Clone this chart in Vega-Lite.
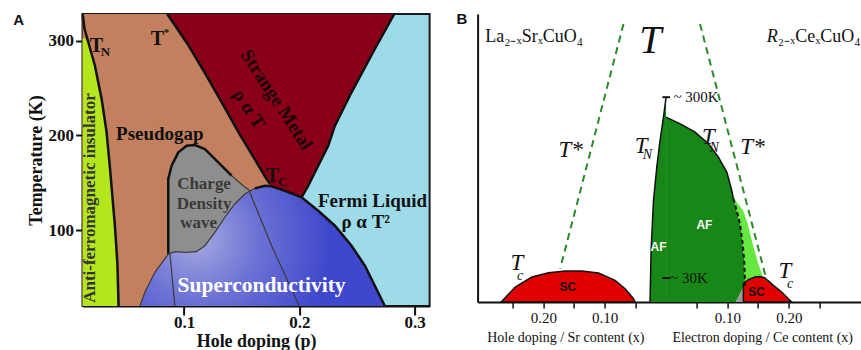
{
  "$schema": "https://vega.github.io/schema/vega-lite/v6.json",
  "background": "white",
  "padding": {"left": 11.6, "top": 8, "right": 0, "bottom": 0},
  "autosize": {"type": "pad"},
  "spacing": 48,
  "bounds": "flush",
  "resolve": {"scale": {"x": "independent", "y": "independent"}},
  "config": {"axis": {"grid": false}},
  "hconcat": [
    {
      "width": 347,
      "height": 292,
      "view": {"fill": "#9edbe9", "stroke": "#1a1a1a", "strokeWidth": 2},
      "layer": [
        {
          "data": {"values": [
            {"T": 328, "p": 0.012, "p2": 0.0854}, {"T": 296.4, "p": 0.012, "p2": 0.1030},
            {"T": 264.7, "p": 0.012, "p2": 0.1186}, {"T": 233.1, "p": 0.012, "p2": 0.1334},
            {"T": 201.4, "p": 0.012, "p2": 0.1481}, {"T": 175.1, "p": 0.012, "p2": 0.1611},
            {"T": 154.0, "p": 0.012, "p2": 0.1715}, {"T": 138.1, "p": 0.012, "p2": 0.1776},
            {"T": 111.8, "p": 0.012, "p2": 0.1889}, {"T": 85.4, "p": 0.012, "p2": 0.2019},
            {"T": 20, "p": 0.012, "p2": 0.2279}
          ]},
          "mark": {"type": "area", "orient": "horizontal", "color": "#c2805e"},
          "encoding": {
            "y": {"field": "T", "type": "quantitative", "scale": {"domain": [20, 328], "nice": false, "zero": false},
              "axis": {"title": "Temperature (K)", "values": [100, 200, 300], "grid": false,
                "labelFont": "Liberation Serif", "labelFontWeight": "bold", "labelFontSize": 17, "labelColor": "#111",
                "tickSize": 7, "tickWidth": 2, "tickColor": "#111", "labelPadding": 2,
                "domainColor": "#111", "domainWidth": 2.5,
                "titleFont": "Liberation Serif", "titleFontWeight": "bold", "titleFontSize": 18, "titleColor": "#111", "titlePadding": 3}},
            "x": {"field": "p", "type": "quantitative", "scale": {"domain": [0.012, 0.3129], "nice": false, "zero": false},
              "axis": {"title": "Hole doping (p)", "values": [0.1, 0.2, 0.3], "format": ".1f", "grid": false,
                "labelFont": "Liberation Serif", "labelFontWeight": "bold", "labelFontSize": 17, "labelColor": "#111",
                "tickSize": 9, "tickWidth": 2, "tickColor": "#111", "labelPadding": 0, "labelFlush": false,
                "domainColor": "#111", "domainWidth": 2,
                "titleFont": "Liberation Serif", "titleFontWeight": "bold", "titleFontSize": 18, "titleColor": "#111", "titlePadding": 2}},
            "x2": {"field": "p2"}
          }
        },
        {
          "data": {"values": [
            {"T": 328, "p": 0.0854, "p2": 0.2823}, {"T": 296.4, "p": 0.1030, "p2": 0.2678},
            {"T": 264.7, "p": 0.1186, "p2": 0.2537}, {"T": 233.1, "p": 0.1334, "p2": 0.2402},
            {"T": 201.4, "p": 0.1481, "p2": 0.2283}, {"T": 175.1, "p": 0.1611, "p2": 0.2193},
            {"T": 154.0, "p": 0.1715, "p2": 0.2106}, {"T": 138.1, "p": 0.1776, "p2": 0.2035},
            {"T": 132.9, "p": 0.1799, "p2": 0.2010}
          ]},
          "mark": {"type": "area", "orient": "horizontal", "color": "#8a0019"},
          "encoding": {
            "y": {"field": "T", "type": "quantitative", "scale": {"domain": [20, 328], "nice": false, "zero": false}},
            "x": {"field": "p", "type": "quantitative", "scale": {"domain": [0.012, 0.3129], "nice": false, "zero": false}},
            "x2": {"field": "p2"}
          }
        },
        {
          "data": {"values": [
            {"T": 302.4, "p": 0.012, "p2": 0.0138}, {"T": 298.5, "p": 0.012, "p2": 0.0169},
            {"T": 273.5, "p": 0.012, "p2": 0.0227}, {"T": 238.3, "p": 0.012, "p2": 0.0285},
            {"T": 203.5, "p": 0.012, "p2": 0.0328}, {"T": 164.5, "p": 0.012, "p2": 0.0358},
            {"T": 104.7, "p": 0.012, "p2": 0.0400}, {"T": 64.3, "p": 0.012, "p2": 0.0422},
            {"T": 20, "p": 0.012, "p2": 0.0432}
          ]},
          "mark": {"type": "area", "orient": "horizontal", "color": "#b5e61d"},
          "encoding": {
            "y": {"field": "T", "type": "quantitative", "scale": {"domain": [20, 328], "nice": false, "zero": false}},
            "x": {"field": "p", "type": "quantitative", "scale": {"domain": [0.012, 0.3129], "nice": false, "zero": false}},
            "x2": {"field": "p2"}
          }
        },
        {
          "data": {"values": [
            {"p": 0.0863, "T": 154.0}, {"p": 0.0892, "T": 168.0}, {"p": 0.0950, "T": 182.1},
            {"p": 0.1022, "T": 189.1}, {"p": 0.1094, "T": 189.8}, {"p": 0.1180, "T": 185.6},
            {"p": 0.1297, "T": 171.6}, {"p": 0.1412, "T": 157.4}, {"p": 0.1513, "T": 146.9},
            {"p": 0.1571, "T": 141.6}
          ]},
          "mark": {"type": "area", "color": "#8e8e8e"},
          "encoding": {
            "x": {"field": "p", "type": "quantitative", "scale": {"domain": [0.012, 0.3129], "nice": false, "zero": false}},
            "y": {"field": "T", "type": "quantitative", "scale": {"domain": [20, 328], "nice": false, "zero": false}},
            "y2": {"datum": 20}
          }
        },
        {
          "data": {"values": [
            {"p": 0.0617, "T": 20}, {"p": 0.0660, "T": 34.4}, {"p": 0.0747, "T": 55.5},
            {"p": 0.0863, "T": 74.8}, {"p": 0.0920, "T": 77.3}, {"p": 0.1007, "T": 76.6},
            {"p": 0.1108, "T": 77.3}, {"p": 0.1180, "T": 83.6}, {"p": 0.1267, "T": 97.7},
            {"p": 0.1354, "T": 113.6}, {"p": 0.1440, "T": 127.6}, {"p": 0.1527, "T": 138.1},
            {"p": 0.1614, "T": 144.1}, {"p": 0.1701, "T": 146.9}, {"p": 0.1759, "T": 146.3},
            {"p": 0.1874, "T": 141.6}, {"p": 0.2019, "T": 134.7}, {"p": 0.2163, "T": 120.5},
            {"p": 0.2308, "T": 104.7}, {"p": 0.2452, "T": 83.6}, {"p": 0.2568, "T": 62.5},
            {"p": 0.2654, "T": 41.4}, {"p": 0.2741, "T": 20}
          ]},
          "mark": {"type": "area", "color": {"gradient": "radial", "x1": 0.23, "y1": 0.47, "r1": 0, "x2": 0.23, "y2": 0.47, "r2": 0.55,
            "stops": [{"offset": 0, "color": "#a7aae0"}, {"offset": 0.45, "color": "#6d73d4"}, {"offset": 1, "color": "#3f48cc"}]}},
          "encoding": {
            "x": {"field": "p", "type": "quantitative", "scale": {"domain": [0.012, 0.3129], "nice": false, "zero": false}},
            "y": {"field": "T", "type": "quantitative", "scale": {"domain": [20, 328], "nice": false, "zero": false}},
            "y2": {"datum": 20}
          }
        },
        {
          "data": {"values": [
            {"seg": "TN", "k": 0, "p": 0.0120, "T": 328}, {"seg": "TN", "k": 1, "p": 0.0137, "T": 312.2},
            {"seg": "TN", "k": 2, "p": 0.0169, "T": 298.5}, {"seg": "TN", "k": 3, "p": 0.0227, "T": 273.5},
            {"seg": "TN", "k": 4, "p": 0.0285, "T": 238.3}, {"seg": "TN", "k": 5, "p": 0.0328, "T": 203.5},
            {"seg": "TN", "k": 6, "p": 0.0358, "T": 164.5}, {"seg": "TN", "k": 7, "p": 0.0400, "T": 104.7},
            {"seg": "TN", "k": 8, "p": 0.0422, "T": 64.3}, {"seg": "TN", "k": 9, "p": 0.0432, "T": 20},
            {"seg": "Ts", "k": 0, "p": 0.0854, "T": 328}, {"seg": "Ts", "k": 1, "p": 0.1030, "T": 296.4},
            {"seg": "Ts", "k": 2, "p": 0.1186, "T": 264.7}, {"seg": "Ts", "k": 3, "p": 0.1334, "T": 233.1},
            {"seg": "Ts", "k": 4, "p": 0.1481, "T": 201.4}, {"seg": "Ts", "k": 5, "p": 0.1611, "T": 175.1},
            {"seg": "Ts", "k": 6, "p": 0.1715, "T": 154.0}, {"seg": "Ts", "k": 7, "p": 0.1745, "T": 149.0},
            {"seg": "FL", "k": 0, "p": 0.2823, "T": 328}, {"seg": "FL", "k": 1, "p": 0.2654, "T": 291.1},
            {"seg": "FL", "k": 2, "p": 0.2452, "T": 245.4}, {"seg": "FL", "k": 3, "p": 0.2308, "T": 210.2},
            {"seg": "FL", "k": 4, "p": 0.2250, "T": 189.1}, {"seg": "FL", "k": 5, "p": 0.2163, "T": 168.0},
            {"seg": "FL", "k": 6, "p": 0.2077, "T": 146.9}, {"seg": "FL", "k": 7, "p": 0.2019, "T": 134.7},
            {"seg": "CD", "k": 0, "p": 0.0863, "T": 74.8}, {"seg": "CD", "k": 1, "p": 0.0863, "T": 117.0},
            {"seg": "CD", "k": 2, "p": 0.0863, "T": 154.0}, {"seg": "CD", "k": 3, "p": 0.0892, "T": 168.0},
            {"seg": "CD", "k": 4, "p": 0.0950, "T": 182.1}, {"seg": "CD", "k": 5, "p": 0.1022, "T": 189.1},
            {"seg": "CD", "k": 6, "p": 0.1094, "T": 189.8}, {"seg": "CD", "k": 7, "p": 0.1180, "T": 185.6},
            {"seg": "CD", "k": 8, "p": 0.1297, "T": 171.6}, {"seg": "CD", "k": 9, "p": 0.1412, "T": 157.4},
            {"seg": "DR", "k": 0, "p": 0.1614, "T": 144.1}, {"seg": "DR", "k": 1, "p": 0.1701, "T": 146.9},
            {"seg": "DR", "k": 2, "p": 0.1759, "T": 146.3}, {"seg": "DR", "k": 3, "p": 0.1874, "T": 141.6},
            {"seg": "DR", "k": 4, "p": 0.2019, "T": 134.7}, {"seg": "DR", "k": 5, "p": 0.2163, "T": 120.5},
            {"seg": "DR", "k": 6, "p": 0.2308, "T": 104.7}, {"seg": "DR", "k": 7, "p": 0.2452, "T": 83.6},
            {"seg": "DR", "k": 8, "p": 0.2568, "T": 62.5}, {"seg": "DR", "k": 9, "p": 0.2654, "T": 41.4},
            {"seg": "DR", "k": 10, "p": 0.2741, "T": 20}
          ]},
          "mark": {"type": "line", "color": "#111", "strokeWidth": 2.5},
          "encoding": {
            "x": {"field": "p", "type": "quantitative", "scale": {"domain": [0.012, 0.3129], "nice": false, "zero": false}},
            "y": {"field": "T", "type": "quantitative", "scale": {"domain": [20, 328], "nice": false, "zero": false}},
            "detail": {"field": "seg"},
            "order": {"field": "k"}
          }
        },
        {
          "data": {"values": [
            {"seg": "DL", "k": 0, "p": 0.0617, "T": 20}, {"seg": "DL", "k": 1, "p": 0.0660, "T": 34.4},
            {"seg": "DL", "k": 2, "p": 0.0747, "T": 55.5}, {"seg": "DL", "k": 3, "p": 0.0863, "T": 74.8},
            {"seg": "DL", "k": 4, "p": 0.0920, "T": 77.3}, {"seg": "DL", "k": 5, "p": 0.1007, "T": 76.6},
            {"seg": "DL", "k": 6, "p": 0.1108, "T": 77.3}, {"seg": "DL", "k": 7, "p": 0.1180, "T": 83.6},
            {"seg": "DL", "k": 8, "p": 0.1267, "T": 97.7}, {"seg": "DL", "k": 9, "p": 0.1354, "T": 113.6},
            {"seg": "DL", "k": 10, "p": 0.1440, "T": 127.6}, {"seg": "DL", "k": 11, "p": 0.1527, "T": 138.1},
            {"seg": "DL", "k": 12, "p": 0.1614, "T": 144.1},
            {"seg": "CE", "k": 0, "p": 0.1412, "T": 157.4}, {"seg": "CE", "k": 1, "p": 0.1513, "T": 146.9},
            {"seg": "CE", "k": 2, "p": 0.1571, "T": 141.6},
            {"seg": "I1", "k": 0, "p": 0.0877, "T": 74.8}, {"seg": "I1", "k": 1, "p": 0.0920, "T": 20},
            {"seg": "I2", "k": 0, "p": 0.1570, "T": 139.9}, {"seg": "I2", "k": 1, "p": 0.1759, "T": 83.6},
            {"seg": "I2", "k": 2, "p": 0.1990, "T": 22.1}, {"seg": "I2", "k": 3, "p": 0.1993, "T": 20}
          ]},
          "mark": {"type": "line", "color": "#3a3a3a", "strokeWidth": 1.2},
          "encoding": {
            "x": {"field": "p", "type": "quantitative", "scale": {"domain": [0.012, 0.3129], "nice": false, "zero": false}},
            "y": {"field": "T", "type": "quantitative", "scale": {"domain": [20, 328], "nice": false, "zero": false}},
            "detail": {"field": "seg"},
            "order": {"field": "k"}
          }
        },
        {
          "data": {"values": [
            {"t": "Pseudogap", "p": 0.0790, "T": 201.4},
            {"t": "Fermi Liquid", "p": 0.2634, "T": 131.1},
            {"t": "ρ α T²", "p": 0.2575, "T": 108.3}
          ]},
          "mark": {"type": "text", "font": "Liberation Serif", "fontWeight": "bold", "fontSize": 19, "color": "#111", "baseline": "middle"},
          "encoding": {
            "x": {"field": "p", "type": "quantitative", "scale": {"domain": [0.012, 0.3129], "nice": false, "zero": false}},
            "y": {"field": "T", "type": "quantitative", "scale": {"domain": [20, 328], "nice": false, "zero": false}},
            "text": {"field": "t"}
          }
        },
        {
          "data": {"values": [
            {"t": "T", "p": 0.0239, "T": 293.9},
            {"t": "T", "p": 0.0768, "T": 301.6},
            {"t": "T", "p": 0.1766, "T": 157.4}
          ]},
          "mark": {"type": "text", "font": "Liberation Serif", "fontWeight": "bold", "fontSize": 20, "color": "#111", "baseline": "middle"},
          "encoding": {
            "x": {"field": "p", "type": "quantitative", "scale": {"domain": [0.012, 0.3129], "nice": false, "zero": false}},
            "y": {"field": "T", "type": "quantitative", "scale": {"domain": [20, 328], "nice": false, "zero": false}},
            "text": {"field": "t"}
          }
        },
        {
          "data": {"values": [
            {"t": "N", "p": 0.0319, "T": 288.4},
            {"t": "C", "p": 0.1854, "T": 151.3}
          ]},
          "mark": {"type": "text", "font": "Liberation Serif", "fontWeight": "bold", "fontSize": 13, "color": "#111", "baseline": "middle"},
          "encoding": {
            "x": {"field": "p", "type": "quantitative", "scale": {"domain": [0.012, 0.3129], "nice": false, "zero": false}},
            "y": {"field": "T", "type": "quantitative", "scale": {"domain": [20, 328], "nice": false, "zero": false}},
            "text": {"field": "t"}
          }
        },
        {
          "data": {"values": [{"t": "*", "p": 0.0848, "T": 307.5}]},
          "mark": {"type": "text", "font": "Liberation Serif", "fontWeight": "bold", "fontSize": 11, "color": "#111", "baseline": "middle"},
          "encoding": {
            "x": {"field": "p", "type": "quantitative", "scale": {"domain": [0.012, 0.3129], "nice": false, "zero": false}},
            "y": {"field": "T", "type": "quantitative", "scale": {"domain": [20, 328], "nice": false, "zero": false}},
            "text": {"field": "t"}
          }
        },
        {
          "data": {"values": [
            {"t": "Charge", "p": 0.1173, "T": 148.7},
            {"t": "Density", "p": 0.1173, "T": 127.6},
            {"t": "wave", "p": 0.1126, "T": 107.5}
          ]},
          "mark": {"type": "text", "font": "Liberation Serif", "fontWeight": "bold", "fontSize": 17, "color": "#3a3a3a", "baseline": "middle"},
          "encoding": {
            "x": {"field": "p", "type": "quantitative", "scale": {"domain": [0.012, 0.3129], "nice": false, "zero": false}},
            "y": {"field": "T", "type": "quantitative", "scale": {"domain": [20, 328], "nice": false, "zero": false}},
            "text": {"field": "t"}
          }
        },
        {
          "data": {"values": [{"t": "Superconductivity", "p": 0.1672, "T": 40.8}]},
          "mark": {"type": "text", "font": "Liberation Serif", "fontWeight": "bold", "fontSize": 21.5, "color": "#ffffff", "baseline": "middle"},
          "encoding": {
            "x": {"field": "p", "type": "quantitative", "scale": {"domain": [0.012, 0.3129], "nice": false, "zero": false}},
            "y": {"field": "T", "type": "quantitative", "scale": {"domain": [20, 328], "nice": false, "zero": false}},
            "text": {"field": "t"}
          }
        },
        {
          "data": {"values": [
            {"t": "Strange Metal", "p": 0.1802, "T": 237.6},
            {"t": "ρ α T", "p": 0.1562, "T": 227.8}
          ]},
          "mark": {"type": "text", "font": "Liberation Serif", "fontWeight": "bold", "fontSize": 19, "color": "#1a0008", "baseline": "middle", "angle": 57},
          "encoding": {
            "x": {"field": "p", "type": "quantitative", "scale": {"domain": [0.012, 0.3129], "nice": false, "zero": false}},
            "y": {"field": "T", "type": "quantitative", "scale": {"domain": [20, 328], "nice": false, "zero": false}},
            "text": {"field": "t"}
          }
        },
        {
          "data": {"values": [{"t": "Anti-ferromagnetic insulator", "p": 0.0181, "T": 133.9}]},
          "mark": {"type": "text", "font": "Liberation Serif", "fontWeight": "bold", "fontSize": 17, "color": "#333", "baseline": "middle", "angle": 270},
          "encoding": {
            "x": {"field": "p", "type": "quantitative", "scale": {"domain": [0.012, 0.3129], "nice": false, "zero": false}},
            "y": {"field": "T", "type": "quantitative", "scale": {"domain": [20, 328], "nice": false, "zero": false}},
            "text": {"field": "t"}
          }
        },
        {
          "data": {"values": [{"t": "A", "p": -0.0435, "T": 321.7}]},
          "mark": {"type": "text", "font": "Liberation Sans", "fontWeight": "bold", "fontSize": 15, "color": "#111", "baseline": "middle"},
          "encoding": {
            "x": {"field": "p", "type": "quantitative", "scale": {"domain": [0.012, 0.3129], "nice": false, "zero": false}},
            "y": {"field": "T", "type": "quantitative", "scale": {"domain": [20, 328], "nice": false, "zero": false}},
            "text": {"field": "t"}
          }
        }
      ]
    },
    {
      "width": 384,
      "height": 288,
      "view": {"stroke": null},
      "layer": [
        {
          "data": {"values": [
            {"y": 71.11, "x": 0, "x2": 0}, {"y": 64.17, "x": -0.0042, "x2": 0}, {"y": 56.05, "x": -0.0098, "x2": 0},
            {"y": 46.83, "x": -0.0151, "x2": 0}, {"y": 35.24, "x": -0.0205, "x2": 0}, {"y": 17.90, "x": -0.0244, "x2": 0},
            {"y": 0, "x": -0.0261, "x2": 0}
          ]},
          "mark": {"type": "area", "orient": "horizontal", "color": "#178717"},
          "encoding": {
            "y": {"field": "y", "type": "quantitative", "scale": {"domain": [0, 100], "nice": false, "zero": false},
              "axis": {"title": null, "labels": false, "ticks": false, "domain": true, "domainColor": "#111", "domainWidth": 2, "grid": false}},
            "x": {"field": "x", "type": "quantitative", "scale": {"domain": [-0.3072, 0.3187], "nice": false, "zero": false},
              "axis": {"title": "Hole doping / Sr content (x)\u2003\u2003Electron doping / Ce content (x)",
                "values": [-0.25, -0.2, -0.15, -0.1, -0.05, 0.05, 0.1, 0.15, 0.2, 0.25],
                "labelExpr": "abs(datum.value) > 0.09 && abs(datum.value) < 0.11 ? '0.10' : (abs(datum.value) > 0.19 && abs(datum.value) < 0.21 ? '0.20' : '')",
                "labelOverlap": false, "labelFlush": false, "grid": false,
                "labelFont": "Liberation Serif", "labelFontSize": 15, "labelColor": "#111", "labelPadding": 3,
                "tickSize": 6, "tickWidth": 1.5, "tickColor": "#111",
                "domainColor": "#111", "domainWidth": 2,
                "titleFont": "Liberation Serif", "titleFontWeight": "normal", "titleFontSize": 14, "titleColor": "#111", "titlePadding": 5}},
            "x2": {"field": "x2"}
          }
        },
        {
          "data": {"values": [
            {"y": 64.17, "x": 0, "x2": 0}, {"y": 61.60, "x": 0, "x2": 0.0256}, {"y": 58.97, "x": 0, "x2": 0.0472},
            {"y": 54.91, "x": 0, "x2": 0.0691}, {"y": 50.29, "x": 0, "x2": 0.0853}, {"y": 45.09, "x": 0, "x2": 0.0990},
            {"y": 38.71, "x": 0, "x2": 0.1071}, {"y": 35.83, "x": 0, "x2": 0.1098}, {"y": 31.77, "x": 0, "x2": 0.1151},
            {"y": 27.16, "x": 0, "x2": 0.1205}, {"y": 20.22, "x": 0, "x2": 0.1249}, {"y": 13.28, "x": 0, "x2": 0.1277},
            {"y": 6.35, "x": 0, "x2": 0.1287}, {"y": 5.31, "x": 0, "x2": 0.1265}, {"y": 0, "x": 0, "x2": 0.1135}
          ]},
          "mark": {"type": "area", "orient": "horizontal", "color": "#178717"},
          "encoding": {
            "y": {"field": "y", "type": "quantitative", "scale": {"domain": [0, 100], "nice": false, "zero": false}},
            "x": {"field": "x", "type": "quantitative", "scale": {"domain": [-0.3072, 0.3187], "nice": false, "zero": false}},
            "x2": {"field": "x2"}
          }
        },
        {
          "data": {"values": [
            {"y": 36.5, "x": 0.1090, "x2": 0.1090}, {"y": 31.77, "x": 0.1151, "x2": 0.1257},
            {"y": 27.16, "x": 0.1205, "x2": 0.1331}, {"y": 20.22, "x": 0.1249, "x2": 0.1412},
            {"y": 13.28, "x": 0.1277, "x2": 0.1502}, {"y": 8.43, "x": 0.1287, "x2": 0.1586},
            {"y": 6.0, "x": 0.1287, "x2": 0.1640}
          ]},
          "mark": {"type": "area", "orient": "horizontal", "color": "#66e840"},
          "encoding": {
            "y": {"field": "y", "type": "quantitative", "scale": {"domain": [0, 100], "nice": false, "zero": false}},
            "x": {"field": "x", "type": "quantitative", "scale": {"domain": [-0.3072, 0.3187], "nice": false, "zero": false}},
            "x2": {"field": "x2"}
          }
        },
        {
          "data": {"values": [
            {"y": 5.31, "x": 0.1265, "x2": 0.1265}, {"y": 0, "x": 0.1135, "x2": 0.1261}
          ]},
          "mark": {"type": "area", "orient": "horizontal", "color": "#9a9a9a"},
          "encoding": {
            "y": {"field": "y", "type": "quantitative", "scale": {"domain": [0, 100], "nice": false, "zero": false}},
            "x": {"field": "x", "type": "quantitative", "scale": {"domain": [-0.3072, 0.3187], "nice": false, "zero": false}},
            "x2": {"field": "x2"}
          }
        },
        {
          "data": {"values": [
            {"x": -0.2687, "y": 0}, {"x": -0.2459, "y": 5.20}, {"x": -0.2187, "y": 8.67}, {"x": -0.1915, "y": 10.16},
            {"x": -0.1645, "y": 10.75}, {"x": -0.1373, "y": 10.75}, {"x": -0.1101, "y": 10.06}, {"x": -0.0831, "y": 7.49},
            {"x": -0.0668, "y": 4.61}, {"x": -0.0531, "y": 1.14}, {"x": -0.0505, "y": 0}
          ]},
          "mark": {"type": "area", "color": "#e00000", "stroke": "#111", "strokeWidth": 1.5},
          "encoding": {
            "x": {"field": "x", "type": "quantitative", "scale": {"domain": [-0.3072, 0.3187], "nice": false, "zero": false}},
            "y": {"field": "y", "type": "quantitative", "scale": {"domain": [0, 100], "nice": false, "zero": false}},
            "y2": {"datum": 0}
          }
        },
        {
          "data": {"values": [
            {"x": 0.1260, "y": 0}, {"x": 0.1261, "y": 6.35}, {"x": 0.1342, "y": 7.73}, {"x": 0.1450, "y": 8.67},
            {"x": 0.1531, "y": 8.88}, {"x": 0.1612, "y": 8.32}, {"x": 0.1749, "y": 5.76}, {"x": 0.1884, "y": 3.47},
            {"x": 0.2020, "y": 0.55}, {"x": 0.2047, "y": 0}
          ]},
          "mark": {"type": "area", "color": "#e00000", "stroke": "#111", "strokeWidth": 1.5},
          "encoding": {
            "x": {"field": "x", "type": "quantitative", "scale": {"domain": [-0.3072, 0.3187], "nice": false, "zero": false}},
            "y": {"field": "y", "type": "quantitative", "scale": {"domain": [0, 100], "nice": false, "zero": false}},
            "y2": {"datum": 0}
          }
        },
        {
          "data": {"values": [
            {"seg": "afL", "k": 0, "x": 0, "y": 71.11}, {"seg": "afL", "k": 1, "x": -0.0042, "y": 64.17},
            {"seg": "afL", "k": 2, "x": -0.0098, "y": 56.05}, {"seg": "afL", "k": 3, "x": -0.0151, "y": 46.83},
            {"seg": "afL", "k": 4, "x": -0.0205, "y": 35.24}, {"seg": "afL", "k": 5, "x": -0.0244, "y": 17.90},
            {"seg": "afL", "k": 6, "x": -0.0261, "y": 0},
            {"seg": "tn", "k": 0, "x": 0, "y": 64.17}, {"seg": "tn", "k": 1, "x": 0.0256, "y": 61.60},
            {"seg": "tn", "k": 2, "x": 0.0472, "y": 58.97}, {"seg": "tn", "k": 3, "x": 0.0691, "y": 54.91},
            {"seg": "tn", "k": 4, "x": 0.0853, "y": 50.29}, {"seg": "tn", "k": 5, "x": 0.0990, "y": 45.09},
            {"seg": "tn", "k": 6, "x": 0.1071, "y": 38.71}, {"seg": "tn", "k": 7, "x": 0.1098, "y": 35.83}
          ]},
          "mark": {"type": "line", "color": "#111", "strokeWidth": 1.5},
          "encoding": {
            "x": {"field": "x", "type": "quantitative", "scale": {"domain": [-0.3072, 0.3187], "nice": false, "zero": false}},
            "y": {"field": "y", "type": "quantitative", "scale": {"domain": [0, 100], "nice": false, "zero": false}},
            "detail": {"field": "seg"},
            "order": {"field": "k"}
          }
        },
        {
          "data": {"values": [
            {"k": 0, "x": 0.1098, "y": 35.83}, {"k": 1, "x": 0.1151, "y": 31.77}, {"k": 2, "x": 0.1205, "y": 27.16},
            {"k": 3, "x": 0.1249, "y": 20.22}, {"k": 4, "x": 0.1277, "y": 13.28}, {"k": 5, "x": 0.1287, "y": 6.35},
            {"k": 6, "x": 0.1280, "y": 5.0}
          ]},
          "mark": {"type": "line", "color": "#111", "strokeWidth": 2, "strokeDash": [4, 3]},
          "encoding": {
            "x": {"field": "x", "type": "quantitative", "scale": {"domain": [-0.3072, 0.3187], "nice": false, "zero": false}},
            "y": {"field": "y", "type": "quantitative", "scale": {"domain": [0, 100], "nice": false, "zero": false}},
            "order": {"field": "k"}
          }
        },
        {
          "data": {"values": [
            {"seg": "L", "k": 0, "x": -0.0694, "y": 96.53}, {"seg": "L", "k": 1, "x": -0.1726, "y": 11.55},
            {"seg": "R", "k": 0, "x": 0.0554, "y": 96.53}, {"seg": "R", "k": 1, "x": 0.1640, "y": 7.49}
          ]},
          "mark": {"type": "line", "color": "#2a8a2a", "strokeWidth": 2, "strokeDash": [7, 5]},
          "encoding": {
            "x": {"field": "x", "type": "quantitative", "scale": {"domain": [-0.3072, 0.3187], "nice": false, "zero": false}},
            "y": {"field": "y", "type": "quantitative", "scale": {"domain": [0, 100], "nice": false, "zero": false}},
            "detail": {"field": "seg"},
            "order": {"field": "k"}
          }
        },
        {
          "mark": {"type": "rule", "color": "#111", "strokeWidth": 2},
          "encoding": {
            "x": {"datum": 0, "type": "quantitative", "scale": {"domain": [-0.3072, 0.3187], "nice": false, "zero": false}}
          }
        },
        {
          "mark": {"type": "rule", "color": "#111", "strokeWidth": 2},
          "encoding": {
            "y": {"datum": 100, "type": "quantitative", "scale": {"domain": [0, 100], "nice": false, "zero": false}}
          }
        },
        {
          "data": {"values": [
            {"x": -0.0059, "x2": 0.0065, "y": 71.11},
            {"x": -0.0059, "x2": 0.0065, "y": 8.32}
          ]},
          "mark": {"type": "rule", "color": "#111", "strokeWidth": 2},
          "encoding": {
            "x": {"field": "x", "type": "quantitative", "scale": {"domain": [-0.3072, 0.3187], "nice": false, "zero": false}},
            "x2": {"field": "x2"},
            "y": {"field": "y", "type": "quantitative", "scale": {"domain": [0, 100], "nice": false, "zero": false}}
          }
        },
        {
          "data": {"values": [
            {"t": "La₂₋ₓSrₓCuO₄", "x": -0.2948, "y": 90.4},
            {"t": "₂₋ₓCeₓCuO₄", "x": 0.1819, "y": 90.4}
          ]},
          "mark": {"type": "text", "font": "Liberation Serif", "fontSize": 18, "color": "#111", "align": "left", "baseline": "alphabetic"},
          "encoding": {
            "x": {"field": "x", "type": "quantitative", "scale": {"domain": [-0.3072, 0.3187], "nice": false, "zero": false}},
            "y": {"field": "y", "type": "quantitative", "scale": {"domain": [0, 100], "nice": false, "zero": false}},
            "text": {"field": "t"}
          }
        },
        {
          "data": {"values": [{"t": "R", "x": 0.1640, "y": 90.4}]},
          "mark": {"type": "text", "font": "Liberation Serif", "fontStyle": "italic", "fontSize": 18, "color": "#111", "align": "left", "baseline": "alphabetic"},
          "encoding": {
            "x": {"field": "x", "type": "quantitative", "scale": {"domain": [-0.3072, 0.3187], "nice": false, "zero": false}},
            "y": {"field": "y", "type": "quantitative", "scale": {"domain": [0, 100], "nice": false, "zero": false}},
            "text": {"field": "t"}
          }
        },
        {
          "data": {"values": [{"t": "T", "x": -0.0254, "y": 90.7}]},
          "mark": {"type": "text", "font": "Liberation Serif", "fontStyle": "italic", "fontSize": 40, "color": "#111", "baseline": "middle"},
          "encoding": {
            "x": {"field": "x", "type": "quantitative", "scale": {"domain": [-0.3072, 0.3187], "nice": false, "zero": false}},
            "y": {"field": "y", "type": "quantitative", "scale": {"domain": [0, 100], "nice": false, "zero": false}},
            "text": {"field": "t"}
          }
        },
        {
          "data": {"values": [
            {"t": "T*", "x": -0.1555, "y": 52.8},
            {"t": "T*", "x": 0.1409, "y": 53.8},
            {"t": "T", "x": -0.0407, "y": 54.0},
            {"t": "T", "x": 0.0691, "y": 57.2},
            {"t": "T", "x": -0.2432, "y": 13.6},
            {"t": "T", "x": 0.1938, "y": 10.7}
          ]},
          "mark": {"type": "text", "font": "Liberation Serif", "fontStyle": "italic", "fontSize": 23, "color": "#111", "baseline": "middle"},
          "encoding": {
            "x": {"field": "x", "type": "quantitative", "scale": {"domain": [-0.3072, 0.3187], "nice": false, "zero": false}},
            "y": {"field": "y", "type": "quantitative", "scale": {"domain": [0, 100], "nice": false, "zero": false}},
            "text": {"field": "t"}
          }
        },
        {
          "data": {"values": [
            {"t": "N", "x": -0.0306, "y": 51.1},
            {"t": "N", "x": 0.0785, "y": 53.5},
            {"t": "c", "x": -0.2378, "y": 9.05},
            {"t": "c", "x": 0.2020, "y": 6.35}
          ]},
          "mark": {"type": "text", "font": "Liberation Serif", "fontStyle": "italic", "fontSize": 14, "color": "#111", "baseline": "middle"},
          "encoding": {
            "x": {"field": "x", "type": "quantitative", "scale": {"domain": [-0.3072, 0.3187], "nice": false, "zero": false}},
            "y": {"field": "y", "type": "quantitative", "scale": {"domain": [0, 100], "nice": false, "zero": false}},
            "text": {"field": "t"}
          }
        },
        {
          "data": {"values": [
            {"t": "~ 300K", "x": 0.0121, "y": 71.11},
            {"t": "~ 30K", "x": 0.0065, "y": 8.32}
          ]},
          "mark": {"type": "text", "font": "Liberation Serif", "fontSize": 15, "color": "#111", "align": "left", "baseline": "middle"},
          "encoding": {
            "x": {"field": "x", "type": "quantitative", "scale": {"domain": [-0.3072, 0.3187], "nice": false, "zero": false}},
            "y": {"field": "y", "type": "quantitative", "scale": {"domain": [0, 100], "nice": false, "zero": false}},
            "text": {"field": "t"}
          }
        },
        {
          "data": {"values": [
            {"t": "AF", "x": -0.0124, "y": 19.08},
            {"t": "AF", "x": 0.0625, "y": 26.57}
          ]},
          "mark": {"type": "text", "font": "Liberation Sans", "fontWeight": "bold", "fontSize": 12, "color": "#ffffff", "baseline": "middle"},
          "encoding": {
            "x": {"field": "x", "type": "quantitative", "scale": {"domain": [-0.3072, 0.3187], "nice": false, "zero": false}},
            "y": {"field": "y", "type": "quantitative", "scale": {"domain": [0, 100], "nice": false, "zero": false}},
            "text": {"field": "t"}
          }
        },
        {
          "data": {"values": [
            {"t": "SC", "x": -0.1601, "y": 5.2},
            {"t": "SC", "x": 0.1477, "y": 3.47}
          ]},
          "mark": {"type": "text", "font": "Liberation Sans", "fontWeight": "bold", "fontSize": 12, "color": "#111", "baseline": "middle"},
          "encoding": {
            "x": {"field": "x", "type": "quantitative", "scale": {"domain": [-0.3072, 0.3187], "nice": false, "zero": false}},
            "y": {"field": "y", "type": "quantitative", "scale": {"domain": [0, 100], "nice": false, "zero": false}},
            "text": {"field": "t"}
          }
        },
        {
          "data": {"values": [{"t": "B", "x": -0.3327, "y": 98.3}]},
          "mark": {"type": "text", "font": "Liberation Sans", "fontWeight": "bold", "fontSize": 15, "color": "#111", "baseline": "middle"},
          "encoding": {
            "x": {"field": "x", "type": "quantitative", "scale": {"domain": [-0.3072, 0.3187], "nice": false, "zero": false}},
            "y": {"field": "y", "type": "quantitative", "scale": {"domain": [0, 100], "nice": false, "zero": false}},
            "text": {"field": "t"}
          }
        }
      ]
    }
  ]
}
